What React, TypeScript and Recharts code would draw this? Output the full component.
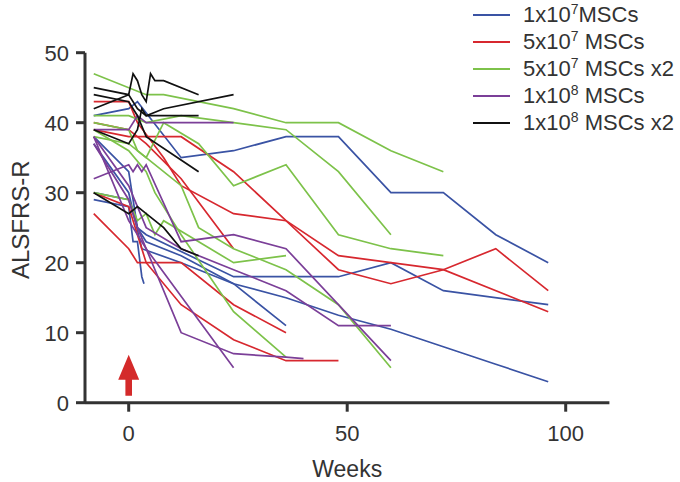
import React from "react"
import { LineChart, Line, XAxis, YAxis, Label, ReferenceDot } from "recharts"

// each patient: [week, ALSFRS-R score] pairs
const blueDose: number[][][] = [
  [[-8, 41], [0, 42], [2, 43], [12, 35], [24, 36], [36, 38], [48, 38], [60, 30], [72, 30], [84, 24], [96, 20]],
  [[-8, 38], [0, 33], [2, 25], [4, 24], [24, 18], [36, 18], [48, 18], [60, 20], [72, 16], [96, 14]],
  [[-8, 37], [0, 30], [3, 22], [12, 20], [24, 17], [36, 15], [48, 12.5], [60, 10.5], [72, 8], [84, 5.5], [96, 3]],
  [[-8, 30], [0, 29], [2, 25], [4, 23], [12, 21], [24, 17], [36, 11]],
  [[-8, 29], [0, 28], [1, 23], [2, 23], [3, 18], [3.5, 17]],
]

const redDose: number[][][] = [
  [[-8, 39], [0, 38], [2, 38], [12, 38], [24, 33], [36, 26], [48, 21], [60, 20], [72, 19], [96, 13]],
  [[-8, 43], [0, 43], [2, 40], [8, 35], [12, 31], [24, 27], [36, 26], [48, 19], [60, 17], [72, 19], [84, 22], [96, 16]],
  [[-8, 27], [0, 22], [2, 20], [4, 20], [12, 20], [24, 14], [36, 10]],
  [[-8, 30], [0, 28], [2, 24], [4, 20], [12, 14], [24, 9], [36, 6], [48, 6]],
  [[-8, 40], [0, 39], [4, 37], [12, 32], [24, 22]],
]

const greenDose: number[][][] = [
  [[-8, 47], [4, 44], [8, 44], [24, 42], [36, 40], [48, 40], [60, 36], [72, 33]],
  [[-8, 41], [0, 41], [4, 40], [12, 41], [24, 40], [36, 39], [48, 33], [60, 24]],
  [[-8, 40], [0, 39], [2, 36], [4, 35], [8, 40], [16, 37], [24, 31], [36, 34], [48, 24], [60, 22], [72, 21]],
  [[-8, 30], [0, 29], [2, 26], [4, 27], [6, 24], [8, 26], [24, 20], [36, 21]],
  [[-8, 38], [0, 37], [4, 35], [12, 31], [16, 25], [24, 22], [36, 19], [48, 14], [60, 5]],
  [[-8, 39], [0, 36], [4, 33], [6, 30], [12, 24], [24, 13], [36, 6.5]],
]

const purpleDose: number[][][] = [
  [[-8, 39], [0, 39], [2, 41], [4, 40], [24, 40]],
  [[-8, 32], [0, 34], [1, 33], [2, 34], [3, 33], [4, 34], [12, 23], [24, 24], [36, 22], [60, 6]],
  [[-8, 38], [0, 31], [4, 25], [12, 22], [24, 19], [36, 16], [48, 11], [60, 11]],
  [[-8, 37], [0, 29], [2, 25], [12, 10], [24, 7], [36, 6.5], [40, 6.3]],
  [[-8, 38], [0, 26], [4, 22], [24, 5]],
]

const blackDose: number[][][] = [
  [[-8, 45], [0, 44], [1, 47], [2, 46], [3, 44], [4, 43], [5, 47], [6, 46], [8, 46], [16, 44]],
  [[-8, 42], [0, 44], [2, 42], [4, 41], [8, 42], [24, 44]],
  [[-8, 39], [0, 37], [2, 39], [3, 42], [4, 41], [16, 41]],
  [[-8, 44], [0, 43], [2, 41], [4, 38], [16, 33]],
  [[-8, 30], [0, 27], [2, 28], [4, 27], [8, 25], [12, 22], [16, 21]],
]

const xTicks = [0, 50, 100]
const yTicks = [0, 10, 20, 30, 40, 50]

const groups = [
  { name: "b", color: "#3a53a4", series: blueDose },
  { name: "r", color: "#d7282f", series: redDose },
  { name: "g", color: "#7dc24a", series: greenDose },
  { name: "p", color: "#7b3f98", series: purpleDose },
  { name: "k", color: "#111111", series: blackDose },
]

const legendRows = [
  { color: "#3a53a4", base: "1x10", exp: "7", rest: "MSCs" },
  { color: "#d7282f", base: "5x10", exp: "7", rest: " MSCs" },
  { color: "#7dc24a", base: "5x10", exp: "7", rest: " MSCs x2" },
  { color: "#7b3f98", base: "1x10", exp: "8", rest: " MSCs" },
  { color: "#111111", base: "1x10", exp: "8", rest: " MSCs x2" },
]

const font = "'Liberation Sans', Arial, Helvetica, sans-serif"
const axisColor = "#333333"

function Arrow(props: any) {
  const { cx, cy } = props
  const d = `M ${cx} ${cy - 48} L ${cx + 10.5} ${cy - 23} L ${cx + 3.3} ${cy - 23} L ${cx + 3.3} ${cy - 7} L ${cx - 3.3} ${cy - 7} L ${cx - 3.3} ${cy - 23} L ${cx - 10.5} ${cy - 23} Z`
  return <path d={d} fill="#d42a2a" />
}

export default function App() {
  return (
    <div style={{ position: "absolute", left: 0, top: 0, width: 680, height: 482, fontFamily: font }}>
      <LineChart width={680} height={482} margin={{ top: 52.7, right: 70.6, bottom: 0, left: 0 }} style={{ fontFamily: font }}>
        <XAxis
          type="number"
          dataKey="w"
          domain={[-10, 110]}
          ticks={xTicks}
          height={79.3}
          tickSize={9}
          tickMargin={14}
          allowDataOverflow
          axisLine={{ stroke: axisColor, strokeWidth: 3 }}
          tickLine={{ stroke: axisColor, strokeWidth: 3 }}
          tick={{ fill: axisColor, fontSize: 22 }}
        >
          <Label value="Weeks" position="insideBottom" offset={5} style={{ fill: axisColor, fontSize: 23 }} />
        </XAxis>
        <YAxis
          type="number"
          dataKey="v"
          domain={[0, 50]}
          ticks={yTicks}
          width={85}
          tickSize={9}
          tickMargin={7}
          allowDataOverflow
          axisLine={{ stroke: axisColor, strokeWidth: 3 }}
          tickLine={{ stroke: axisColor, strokeWidth: 3 }}
          tick={{ fill: axisColor, fontSize: 22 }}
        >
          <Label value="ALSFRS-R" angle={-90} position="insideLeft" offset={20} dy={-8} style={{ textAnchor: "middle", fill: axisColor, fontSize: 24 }} />
        </YAxis>
        {groups.map((g) =>
          g.series.map((s, i) => (
            <Line
              key={g.name + i}
              data={s.map(([w, v]) => ({ w, v }))}
              dataKey="v"
              type="linear"
              stroke={g.color}
              strokeWidth={1.7}
              dot={false}
              isAnimationActive={false}
            />
          ))
        )}
        <ReferenceDot x={0} y={0} r={0} shape={Arrow} ifOverflow="visible" />
      </LineChart>
      <div style={{ position: "absolute", left: 473, top: 1.5, color: axisColor }}>
        {legendRows.map((row, i) => (
          <div key={i} style={{ height: 27, display: "flex", alignItems: "center", fontSize: 22, whiteSpace: "pre" }}>
            <span style={{ display: "inline-block", width: 37, height: 1.7, background: row.color, marginRight: 13 }} />
            <span>
              {row.base}
              <sup style={{ fontSize: 14 }}>{row.exp}</sup>
              {row.rest}
            </span>
          </div>
        ))}
      </div>
    </div>
  )
}
